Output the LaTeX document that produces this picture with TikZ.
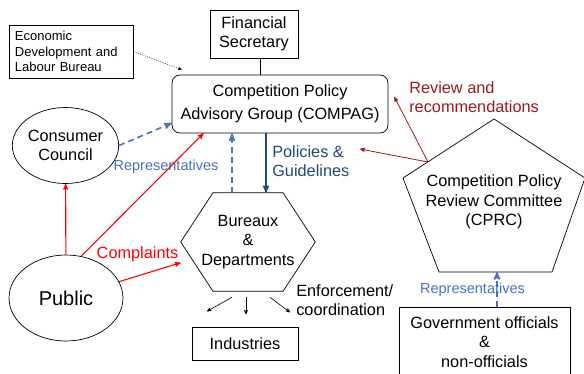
\documentclass[tikz,border=0pt]{standalone}
\usepackage{fontspec}
\setmainfont{Liberation Sans}
\usepackage{tikz}
\usetikzlibrary{arrows,shapes.geometric}

\definecolor{navy}{RGB}{31,73,125}
\definecolor{repblue}{RGB}{68,114,196}
\definecolor{revred}{RGB}{160,26,26}

\begin{document}
\begin{tikzpicture}[x=1pt,y=-1pt,>=stealth',semithick,font=\fontsize{16.3}{19.5}\selectfont]

    \tikzstyle{box}=[draw=black,line width=0.7pt,align=center,inner sep=2pt]
    \tikzstyle{ell}=[ellipse,draw=black,line width=0.7pt,align=center,inner sep=0pt]
    \tikzstyle{hex}=[align=center,minimum width=134,minimum height=98,inner sep=0pt]
    \tikzstyle{lbl}=[inner sep=2pt,align=left]
    \tikzstyle{repdash}=[->,repblue,line width=1.6pt,dash pattern=on 6pt off 4pt]
    \tikzstyle{cmplarrow}=[->,red,line width=1.1pt]
    \tikzstyle{revarrow}=[->,revred,line width=0.8pt]
    \tikzstyle{smallarrow}=[->,black,line width=0.6pt]

    \useasboundingbox (0,0) rectangle (584,373);

    \node[box,text width=112pt,inner xsep=6pt,align=left,minimum height=53,font=\fontsize{13}{15.5}\selectfont] (edlb) at (71,51.5) {Economic\\Development and\\Labour Bureau};
    \node[box,minimum width=88,minimum height=48] (fs) at (254,34) {Financial\\Secretary};
    \node[box,rounded corners=8pt,minimum width=216,minimum height=58,font=\fontsize{16.3}{23}\selectfont] (compag) at (280,104) {Competition Policy\\Advisory Group (COMPAG)};
    \node[ell,minimum width=95,minimum height=76] (cc) at (65.5,145.5) {Consumer\\Council};
    \node[ell,minimum width=114,minimum height=86,font=\fontsize{20}{24}\selectfont] (public) at (66,298) {Public};
    \node[hex] (bd) at (248,242) {Bureaux\\\&\\Departments};
    \node[box,minimum width=106,minimum height=33] (ind) at (245,343.5) {Industries};
    \node[box,minimum width=171,minimum height=70] (gov) at (484.5,342) {Government officials\\\&\\non-officials};

    % bureaux hexagon
    \draw[line width=0.7pt] (bd.west) -- ([xshift=-35pt]bd.north) -- ([xshift=35pt]bd.north)
        -- (bd.east) -- ([xshift=35pt]bd.south) -- ([xshift=-35pt]bd.south) -- cycle;

    % review committee
    \coordinate (cp1) at (494,119);
    \coordinate (cp2) at (585,178);
    \coordinate (cp3) at (552,272);
    \coordinate (cp4) at (439,272);
    \coordinate (cp5) at (403,178);
    \draw[line width=0.7pt] (cp1) -- (cp2) -- (cp3) -- (cp4) -- (cp5) -- cycle;
    \node[align=center] (cprc) at (494,202) {Competition Policy\\Review Committee\\(CPRC)};

    \node[lbl,text=repblue,font=\fontsize{14.5}{17}\selectfont] (rep1) at (166,167) {Representatives};
    \node[lbl,text=repblue,font=\fontsize{14.5}{17}\selectfont] (rep2) at (472.5,290) {Representatives};
    \node[lbl,text=red] (compl) at (137.5,254) {Complaints};
    \node[lbl,text=navy,anchor=west] (pol) at (270,161) {Policies \&\\Guidelines};
    \node[lbl,text=revred,anchor=west] (rev) at (407,97) {Review and\\recommendations};
    \node[lbl,anchor=west] (enf) at (294,300) {Enforcement/\\coordination};

    \coordinate (rvw) at (428,162);
    \coordinate (rvwtip) at (360,149);

    \draw[line width=0.7pt] ([xshift=6pt]fs.south) -- ([xshift=6pt]fs.south |- compag.north);
    \draw[->,thin,dash pattern=on 1.2pt off 1.2pt] (edlb.east) -- ([shift={(10pt,5pt)}]compag.north west);

    \draw[->,navy,line width=1.5pt] ([xshift=-14pt]compag.south) -- ([xshift=-14pt]compag.south |- bd.north);
    \draw[repdash] ([xshift=-16pt]bd.north) -- ([xshift=-16pt]bd.north |- compag.south);
    \draw[repdash] (cc.east) -- (compag.190);
    \draw[repdash] ([xshift=12.5pt]gov.north) -- ([xshift=12.5pt]gov.north |- cp3);

    \draw[cmplarrow] (public) -- (cc);
    \draw[cmplarrow] (public.70) -- (compag.201);
    \draw[cmplarrow] (public) -- (bd);

    \draw[revarrow] (rvw) -- ([shift={(6pt,7pt)}]compag.east);
    \draw[revarrow] (rvw) -- (rvwtip);

    \draw[smallarrow] ([shift={(-16pt,-6pt)}]bd.south) -- ([shift={(-41pt,-20pt)}]bd.south);
    \draw[smallarrow] ([shift={(-2pt,-6pt)}]bd.south) -- ([shift={(-2pt,-23pt)}]bd.south);
    \draw[smallarrow] ([shift={(22pt,-6pt)}]bd.south) -- ([shift={(42pt,-21pt)}]bd.south);

\end{tikzpicture}
\end{document}
